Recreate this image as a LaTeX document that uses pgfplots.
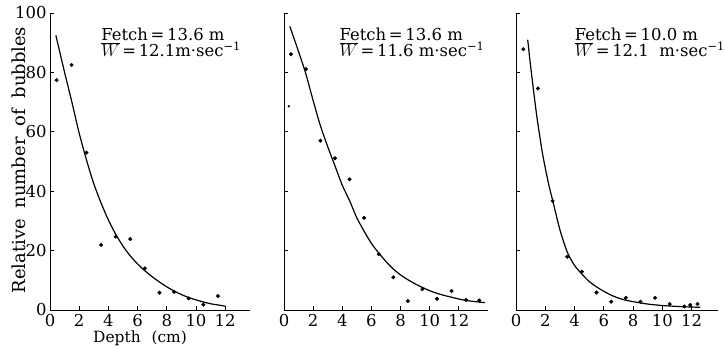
\documentclass[border=0pt]{standalone}
\usepackage{pgfplots}
\pgfplotsset{compat=1.18}
\usepackage{fontspec}
\setmainfont{DejaVu Serif}
\pgfplotsset{
  panel/.style={
    scale only axis, height=297bp,
    axis x line*=bottom, axis y line*=left,
    tick align=inside, major tick length=4bp,
    xmin=0, ymin=0, ymax=100,
    xtick={0,2,...,12}, ytick={0,20,...,100},
    clip=false,
    axis line style={line width=0.9bp},
    every tick/.style={line width=0.8bp, black},
    tick label style={font=\fontsize{16.5}{16.5}\selectfont},
    xticklabel style={yshift=-1bp},
    /pgf/number format/assume math mode=true,
  },
  curve/.style={black, line width=1.2bp, smooth, tension=0.4, no marks},
  dots/.style={only marks, mark=*, mark size=1.8bp, black},
}
\tikzset{ann/.style={font=\fontsize{16.5}{16.5}\selectfont, anchor=base west, inner sep=0pt}}
\begin{document}
\begin{tikzpicture}
% ---------- panel 1 ----------
\begin{axis}[panel, at={(50bp,40bp)}, width=200bp, xmax=13.7,
  ylabel={Relative\hspace{0.6em}number\hspace{0.6em}of\hspace{0.6em}bubbles},
  ylabel style={at={(axis description cs:-0.158,0.505)}, anchor=center, font=\fontsize{18}{18}\selectfont},
  xlabel={Depth\hspace{0.7em}(cm)},
  xlabel style={at={(axis description cs:0.45,-0.094)}, anchor=center, font=\fontsize{15.5}{15.5}\selectfont},
]
\addplot[dots] coordinates {(0.45,77.4) (1.48,82.5) (2.5,53.0) (3.5,21.9) (4.5,24.7) (5.5,23.9) (6.5,14.0) (7.5,5.8) (8.5,6.1) (9.5,3.9) (10.5,1.8) (11.5,4.7)};
\addplot[curve] coordinates {(0.4,92.5) (1.0,80) (1.5,70) (2.0,59.5) (2.5,50.5) (3.0,42.5) (3.5,36) (4.0,30.3) (4.5,25.5) (5.0,21.5) (5.5,18.2) (6.0,15.5) (6.5,13.2) (7.0,11.2) (7.5,9.4) (8.0,7.8) (8.5,6.4) (9.0,5.2) (9.5,4.2) (10.0,3.4) (10.5,2.7) (11.0,2.1) (11.5,1.7) (12.0,1.3)};
\node[ann] at (axis cs:3.5,90.8) {Fetch\,=\,13.6 m};
\node[ann] at (axis cs:3.5,85.3) {$\overline{W}$\,=\,12.1m·sec\textsuperscript{−1}};
\end{axis}
% ---------- panel 2 ----------
\begin{axis}[panel, at={(284bp,40bp)}, width=204bp, xmax=14.0, yticklabels={}]
\addplot[dots] coordinates {(0.48,86.1) (1.5,81.1) (2.5,57.0) (3.5,51.1) (4.5,44.0) (5.5,31.0) (6.5,18.8) (7.5,11.0) (8.5,3.0) (9.5,7.0) (10.5,3.8) (11.5,6.4) (12.5,3.4) (13.4,3.2)};
\addplot[only marks, mark=*, mark size=1bp, black] coordinates {(0.34,68.6)};
\addplot[curve] coordinates {(0.4,95.5) (1.0,87) (1.5,79.5) (2.0,70.5) (2.5,62) (3.0,55) (3.5,48.5) (4.0,42) (4.5,36.8) (5.0,31) (5.5,26.5) (6.0,22.4) (6.5,19.2) (7.0,16.3) (7.5,13.8) (8.0,11.8) (8.5,10.2) (9.0,8.8) (9.5,7.6) (10.0,6.5) (10.5,5.6) (11.0,4.9) (11.5,4.3) (12.0,3.7) (12.5,3.2) (13.0,2.9) (13.5,2.6) (13.8,2.5)};
\node[ann] at (axis cs:3.8,90.8) {Fetch\,=\,13.6 m};
\node[ann] at (axis cs:3.8,85.3) {$\overline{W}$\,=\,11.6 m·sec\textsuperscript{−1}};
\end{axis}
% ---------- panel 3 ----------
\begin{axis}[panel, at={(516bp,40bp)}, width=202bp, xmax=13.8, yticklabels={}]
\addplot[dots] coordinates {(0.5,87.8) (1.5,74.6) (2.5,36.7) (3.5,17.9) (4.5,12.9) (5.5,5.9) (6.5,2.8) (7.5,4.1) (8.5,2.8) (9.5,4.1) (10.5,2.0) (11.5,1.2) (11.9,1.7) (12.4,2.0)};
\addplot[curve] coordinates {(0.8,91) (1.0,82) (1.4,66) (1.8,53) (2.2,43) (2.5,37) (3.0,27) (3.5,19.5) (4.0,15) (4.5,12.1) (5.0,9.6) (5.5,7.8) (6.0,6.3) (6.5,5.0) (7.0,4.0) (7.5,3.3) (8.0,2.8) (9.0,2.0) (10.0,1.5) (11.0,1.2) (12.0,1.0) (12.6,0.9)};
\node[ann] at (axis cs:4.0,90.8) {Fetch\,=\,10.0 m};
\node[ann] at (axis cs:4.0,85.3) {$\overline{W}$\,=\,12.1\ \ m·sec\textsuperscript{−1}};
\end{axis}
\pgfresetboundingbox
\path[use as bounding box] (0,0) rectangle (725bp,350bp);
\end{tikzpicture}
\end{document}
